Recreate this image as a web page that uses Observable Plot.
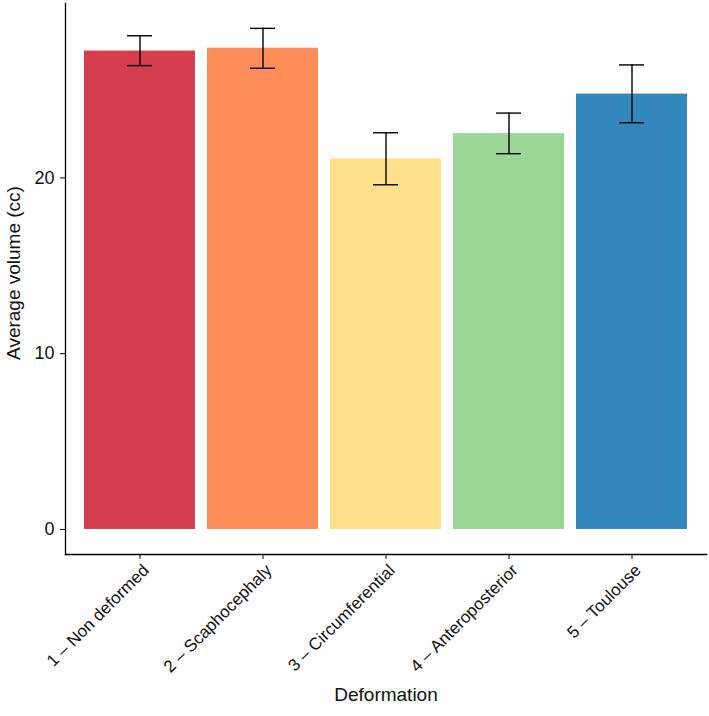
<!DOCTYPE html>
<html><head><meta charset="utf-8">
<script src="https://cdn.jsdelivr.net/npm/d3@7"></script>
<script src="https://cdn.jsdelivr.net/npm/@observablehq/plot@0.6"></script>
<style>
body{margin:0;background:#fff;}
#chart svg{font-family:"Liberation Sans",Arial,Helvetica,sans-serif;}
</style>
</head><body><div id="chart"></div>
<script>
const categories = ["1 – Non deformed","2 – Scaphocephaly","3 – Circumferential","4 – Anteroposterior","5 – Toulouse"];
const means = [27.22, 27.38, 21.08, 22.52, 24.77];
const lower = [26.39, 26.24, 19.61, 21.38, 23.14];
const upper = [28.09, 28.51, 22.57, 23.69, 26.43];
const colors = ["#D53E4F","#FC8D59","#FEE08B","#99D594","#3288BD"];
const yTicks = [0, 10, 20];
const yTitle = "Average volume (cc)";
const xTitle = "Deformation";

const data = categories.map((c, i) => ({cat: c, mean: means[i], lo: lower[i], hi: upper[i]}));

const plot = Plot.plot({
  width: 709,
  height: 716,
  marginTop: 3,
  marginLeft: 65,
  marginRight: 3,
  marginBottom: 162,
  style: {fontFamily: '"Liberation Sans",Arial,sans-serif', fontSize: "18px", background: "#fff", color: "#111"},
  x: {domain: categories, paddingInner: 0.1, paddingOuter: 0.15, label: null},
  y: {domain: [-1.425, 29.925], label: null},
  color: {domain: categories, range: colors},
  marks: [
    Plot.barY(data, {x: "cat", y: "mean", fill: "cat"}),
    Plot.ruleX(data, {x: "cat", y1: "lo", y2: "hi", stroke: "#000", strokeWidth: 1.4}),
    Plot.tickY(data, {x: "cat", y: "lo", stroke: "#000", strokeWidth: 1.4, insetLeft: 43, insetRight: 43}),
    Plot.tickY(data, {x: "cat", y: "hi", stroke: "#000", strokeWidth: 1.4, insetLeft: 43, insetRight: 43}),
    Plot.axisY({ticks: yTicks, tickSize: 5, tickPadding: 6, fontSize: 18, label: null, stroke: "#000"}),
    Plot.axisX({tickSize: 5, tickFormat: () => "", label: null, stroke: "#000"}),
    Plot.axisX({tickRotate: -45, tickSize: 0, tickPadding: 8, dx: 6, dy: 5, fontSize: 17, label: null, fill: "#111"}),
    Plot.frame({anchor: "left", stroke: "#000", strokeWidth: 1.3}),
    Plot.frame({anchor: "bottom", stroke: "#000", strokeWidth: 1.3}),
    Plot.text([yTitle], {frameAnchor: "left", textAnchor: "middle", rotate: -90, dx: -52, dy: -6, fontSize: 19, fill: "#111"}),
    Plot.text([xTitle], {frameAnchor: "bottom", dy: 146, fontSize: 19, fill: "#111"})
  ]
});
document.getElementById("chart").appendChild(plot);
</script>
</body></html>
